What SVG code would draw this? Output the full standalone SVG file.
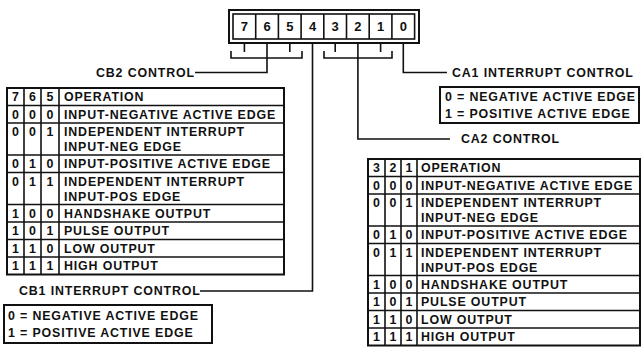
<svg xmlns="http://www.w3.org/2000/svg" width="642" height="347" viewBox="0 0 642 347">
<style>
  .t { font-family: "Liberation Sans", Arial, sans-serif; font-weight: bold; font-size: 12.4px; letter-spacing: 0.85px; fill: #111; }
  .d { font-family: "Liberation Sans", Arial, sans-serif; font-weight: bold; font-size: 12.4px; fill: #111; text-anchor: middle; }
  .rd { font-family: "Liberation Sans", Arial, sans-serif; font-weight: bold; font-size: 13px; fill: #111; text-anchor: middle; }
  .box { fill: #fff; stroke: #111; stroke-width: 2; }
  .ln { stroke: #111; stroke-width: 1.6; fill: none; }
  .cn { stroke: #111; stroke-width: 1.6; fill: none; }
</style>
<rect width="642" height="347" fill="#fff"/>

<g id="register">
  <rect class="box" x="229" y="10" width="190" height="33"/>
  <rect class="ln" x="233" y="14" width="181.6" height="25"/>
  <line class="ln" x1="255.7" y1="14" x2="255.7" y2="39"/>
  <line class="ln" x1="278.4" y1="14" x2="278.4" y2="39"/>
  <line class="ln" x1="301.1" y1="14" x2="301.1" y2="39"/>
  <line class="ln" x1="323.8" y1="14" x2="323.8" y2="39"/>
  <line class="ln" x1="346.5" y1="14" x2="346.5" y2="39"/>
  <line class="ln" x1="369.2" y1="14" x2="369.2" y2="39"/>
  <line class="ln" x1="391.9" y1="14" x2="391.9" y2="39"/>
  <text class="rd" x="244.4" y="31">7</text>
  <text class="rd" x="267" y="31">6</text>
  <text class="rd" x="289.8" y="31">5</text>
  <text class="rd" x="312.5" y="31">4</text>
  <text class="rd" x="335.2" y="31">3</text>
  <text class="rd" x="357.9" y="31">2</text>
  <text class="rd" x="380.6" y="31">1</text>
  <text class="rd" x="403.3" y="31">0</text>
</g>

<g id="connectors">
  <line class="cn" x1="244.4" y1="44" x2="244.4" y2="52"/>
  <line class="cn" x1="289.8" y1="44" x2="289.8" y2="52"/>
  <polyline class="cn" points="231,51 231,58 302,58 302,51"/>
  <polyline class="cn" points="267,44 267,72.5 195,72.5"/>
  <polyline class="cn" points="312.5,43 312.5,291 200,291"/>
  <line class="cn" x1="335.2" y1="44" x2="335.2" y2="52"/>
  <line class="cn" x1="380.6" y1="44" x2="380.6" y2="52"/>
  <polyline class="cn" points="324,51 324,58 392,58 392,51"/>
  <polyline class="cn" points="357.9,44 357.9,139 450,139"/>
  <polyline class="cn" points="403.3,43 403.3,72.5 447,72.5"/>
</g>

<g id="cb2-label"><text class="t" x="96" y="77">CB2 CONTROL</text></g>
<g id="cb1-label"><text class="t" x="19" y="295">CB1 INTERRUPT CONTROL</text></g>
<g id="ca1-label"><text class="t" x="452" y="77">CA1 INTERRUPT CONTROL</text></g>
<g id="ca2-label"><text class="t" x="461" y="143" letter-spacing="0.4">CA2 CONTROL</text></g>

<g id="ca1-legend">
  <rect class="box" x="440" y="87" width="199" height="36"/>
  <text class="t" x="445" y="101">0 = NEGATIVE ACTIVE EDGE</text>
  <text class="t" x="445" y="118">1 = POSITIVE ACTIVE EDGE</text>
</g>

<g id="cb1-legend">
  <rect class="box" x="4" y="305" width="208" height="38"/>
  <text class="t" x="8" y="320">0 = NEGATIVE ACTIVE EDGE</text>
  <text class="t" x="8" y="337">1 = POSITIVE ACTIVE EDGE</text>
</g>

<g id="cb2-table">
  <rect class="box" x="7" y="88" width="277" height="186.5"/>
  <line class="ln" x1="24" y1="88" x2="24" y2="274.5"/>
  <line class="ln" x1="41" y1="88" x2="41" y2="274.5"/>
  <line class="ln" x1="59" y1="88" x2="59" y2="274.5" stroke-width="2"/>
  <line class="ln" x1="7" y1="105.5" x2="284" y2="105.5"/>
  <line class="ln" x1="7" y1="123" x2="284" y2="123"/>
  <line class="ln" x1="7" y1="155" x2="284" y2="155"/>
  <line class="ln" x1="7" y1="172.5" x2="284" y2="172.5"/>
  <line class="ln" x1="7" y1="204.5" x2="284" y2="204.5"/>
  <line class="ln" x1="7" y1="222" x2="284" y2="222"/>
  <line class="ln" x1="7" y1="239.5" x2="284" y2="239.5"/>
  <line class="ln" x1="7" y1="257" x2="284" y2="257"/>
  <text class="d" x="15.5" y="101">7</text><text class="d" x="32.5" y="101">6</text><text class="d" x="50" y="101">5</text>
  <text class="t" x="64" y="101">OPERATION</text>
  <text class="d" x="15.5" y="118.5">0</text><text class="d" x="32.5" y="118.5">0</text><text class="d" x="50" y="118.5">0</text>
  <text class="t" x="64" y="118.5">INPUT-NEGATIVE ACTIVE EDGE</text>
  <text class="d" x="15.5" y="136">0</text><text class="d" x="32.5" y="136">0</text><text class="d" x="50" y="136">1</text>
  <text class="t" x="64" y="136">INDEPENDENT INTERRUPT</text>
  <text class="t" x="64" y="151">INPUT-NEG EDGE</text>
  <text class="d" x="15.5" y="168">0</text><text class="d" x="32.5" y="168">1</text><text class="d" x="50" y="168">0</text>
  <text class="t" x="64" y="168">INPUT-POSITIVE ACTIVE EDGE</text>
  <text class="d" x="15.5" y="185.5">0</text><text class="d" x="32.5" y="185.5">1</text><text class="d" x="50" y="185.5">1</text>
  <text class="t" x="64" y="185.5">INDEPENDENT INTERRUPT</text>
  <text class="t" x="64" y="200.5">INPUT-POS EDGE</text>
  <text class="d" x="15.5" y="217.5">1</text><text class="d" x="32.5" y="217.5">0</text><text class="d" x="50" y="217.5">0</text>
  <text class="t" x="64" y="217.5">HANDSHAKE OUTPUT</text>
  <text class="d" x="15.5" y="235">1</text><text class="d" x="32.5" y="235">0</text><text class="d" x="50" y="235">1</text>
  <text class="t" x="64" y="235">PULSE OUTPUT</text>
  <text class="d" x="15.5" y="252.5">1</text><text class="d" x="32.5" y="252.5">1</text><text class="d" x="50" y="252.5">0</text>
  <text class="t" x="64" y="252.5">LOW OUTPUT</text>
  <text class="d" x="15.5" y="270">1</text><text class="d" x="32.5" y="270">1</text><text class="d" x="50" y="270">1</text>
  <text class="t" x="64" y="270">HIGH OUTPUT</text>
</g>

<g id="ca2-table" transform="translate(0,71)">
  <rect class="box" x="368" y="88" width="272" height="186.5"/>
  <line class="ln" x1="385" y1="88" x2="385" y2="274.5"/>
  <line class="ln" x1="401" y1="88" x2="401" y2="274.5"/>
  <line class="ln" x1="417" y1="88" x2="417" y2="274.5" stroke-width="2"/>
  <line class="ln" x1="368" y1="105.5" x2="640" y2="105.5"/>
  <line class="ln" x1="368" y1="123" x2="640" y2="123"/>
  <line class="ln" x1="368" y1="155" x2="640" y2="155"/>
  <line class="ln" x1="368" y1="172.5" x2="640" y2="172.5"/>
  <line class="ln" x1="368" y1="204.5" x2="640" y2="204.5"/>
  <line class="ln" x1="368" y1="222" x2="640" y2="222"/>
  <line class="ln" x1="368" y1="239.5" x2="640" y2="239.5"/>
  <line class="ln" x1="368" y1="257" x2="640" y2="257"/>
  <text class="d" x="376.5" y="101">3</text><text class="d" x="393" y="101">2</text><text class="d" x="409" y="101">1</text>
  <text class="t" x="421" y="101">OPERATION</text>
  <text class="d" x="376.5" y="118.5">0</text><text class="d" x="393" y="118.5">0</text><text class="d" x="409" y="118.5">0</text>
  <text class="t" x="421" y="118.5">INPUT-NEGATIVE ACTIVE EDGE</text>
  <text class="d" x="376.5" y="136">0</text><text class="d" x="393" y="136">0</text><text class="d" x="409" y="136">1</text>
  <text class="t" x="421" y="136">INDEPENDENT INTERRUPT</text>
  <text class="t" x="421" y="151">INPUT-NEG EDGE</text>
  <text class="d" x="376.5" y="168">0</text><text class="d" x="393" y="168">1</text><text class="d" x="409" y="168">0</text>
  <text class="t" x="421" y="168">INPUT-POSITIVE ACTIVE EDGE</text>
  <text class="d" x="376.5" y="185.5">0</text><text class="d" x="393" y="185.5">1</text><text class="d" x="409" y="185.5">1</text>
  <text class="t" x="421" y="185.5">INDEPENDENT INTERRUPT</text>
  <text class="t" x="421" y="200.5">INPUT-POS EDGE</text>
  <text class="d" x="376.5" y="217.5">1</text><text class="d" x="393" y="217.5">0</text><text class="d" x="409" y="217.5">0</text>
  <text class="t" x="421" y="217.5">HANDSHAKE OUTPUT</text>
  <text class="d" x="376.5" y="235">1</text><text class="d" x="393" y="235">0</text><text class="d" x="409" y="235">1</text>
  <text class="t" x="421" y="235">PULSE OUTPUT</text>
  <text class="d" x="376.5" y="252.5">1</text><text class="d" x="393" y="252.5">1</text><text class="d" x="409" y="252.5">0</text>
  <text class="t" x="421" y="252.5">LOW OUTPUT</text>
  <text class="d" x="376.5" y="270">1</text><text class="d" x="393" y="270">1</text><text class="d" x="409" y="270">1</text>
  <text class="t" x="421" y="270">HIGH OUTPUT</text>
</g>
</svg>
